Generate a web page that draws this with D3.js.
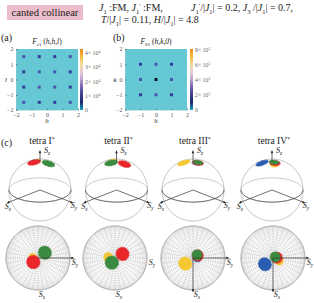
<!DOCTYPE html>
<html>
<head>
<meta charset="utf-8">
<script src="https://cdn.jsdelivr.net/npm/d3@7"></script>
<style>
body { margin: 0; background: #fff; }
svg { display: block; }
text { font-family: "Liberation Serif", serif; fill: #222; }
.tick text { fill: #555; }
</style>
</head>
<body>
<div id="chart"></div>
<script>
const WIDTH = 314;
const HEIGHT = 303;

// heatmap peaks
const peaksAH = [-1.5, -0.5, 0.5, 1.5];
const peaksAL = [-1.5, -0.5, 0.5, 1.5];
const peaksBH = [-1, 0, 1];
const peaksBK = [-1, 0, 1];
const axisTicks = [-2, -1, 0, 1, 2];
const barTicksA = [0, 1, 2, 3, 4];
const barTicksB = [0, 2, 4, 6, 8];
const barColors = ["#12a5c0", "#1d2a6e", "#3c3f96", "#6f63ad", "#b9a3cf", "#e6cdd6", "#f2dc9a", "#f5b93f", "#ee8a1e"];

// spin clusters: [colour, Sy, Sx, angular radius]
const tetraNames = ["tetra I", "tetra II", "tetra III", "tetra IV"];
const tetra1 = [["#f5c832", -0.17, -0.02, 7], ["#2a5cb0", -0.16, 0.1, 9], ["#e8262a", -0.15, 0.13, 12], ["#3a8a3f", 0.22, -0.17, 12]];
const tetra2 = [["#f5c832", -0.22, -0.03, 8], ["#e8262a", 0.24, -0.13, 12], ["#3a8a3f", -0.1, 0.15, 12]];
const tetra3 = [["#f5c832", -0.25, 0.18, 12], ["#2a5cb0", 0.14, -0.02, 8], ["#e8262a", 0.15, -0.08, 10], ["#3a8a3f", 0.13, -0.1, 9]];
const tetra4 = [["#f5c832", 0.2, 0.1, 7], ["#2a5cb0", -0.26, 0.2, 12], ["#e8262a", 0.12, -0.01, 10], ["#3a8a3f", 0.07, -0.03, 9]];
const tetraData = [tetra1, tetra2, tetra3, tetra4];
const topCenters = [40, 116.5, 193, 272];
const bottomCenters = [38, 115, 193, 273];
const bottomAxes = [[true, false], [false, false], [true, true], [true, true]];

const svg = d3.select("#chart").append("svg").attr("width", WIDTH).attr("height", HEIGHT);

// parts: [string, flags] flags: i italic, b subscript, r superscript
function rich(x, y, size, parts, anchor) {
    const t = svg.append("text").attr("x", x).attr("y", y).attr("font-size", size).attr("text-anchor", anchor || "start");
    let shift = 0;
    parts.forEach(p => {
        const s = t.append("tspan").text(p[0]);
        const flags = p[1] || "";
        let want = 0;
        if (flags.includes("i")) s.attr("font-style", "italic");
        if (flags.includes("b")) { s.attr("font-size", size * 0.65); want = size * 0.25; }
        if (flags.includes("r")) { s.attr("font-size", size * 0.65); want = -size * 0.35; }
        s.attr("dy", want - shift);
        shift = want;
    });
    return t;
}

// header
svg.append("rect").attr("x", 7).attr("y", 5).attr("width", 76).attr("height", 15).attr("fill", "#ebbcca");
rich(45, 16, 10.5, [["canted collinear"]], "middle");
rich(99, 11, 10, [["J", "i"], ["1", "b"], [" :FM,  "], ["J", "i"], ["1", "b"], ["′", "r"], [" :FM,"]]);
rich(191, 11, 10, [["J", "i"], ["1", "b"], ["′", "r"], ["/|"], ["J", "i"], ["1", "b"], ["| = 0.2,  "], ["J", "i"], ["3", "b"], [" /|"], ["J", "i"], ["1", "b"], ["| = 0.7,"]]);
rich(101, 23, 10, [["T", "i"], ["/|"], ["J", "i"], ["1", "b"], ["| = 0.11,   "], ["H", "i"], ["/|"], ["J", "i"], ["1", "b"], ["| = 4.8"]]);

rich(1, 41, 10, [["(a)"]]);
rich(113, 41, 10, [["(b)"]]);
rich(1, 146, 10, [["(c)"]]);

function heatmap(left, colorLeft, title, xs, ys, xName, yName, barTicks, barMax) {
    const top = 49, bottom = 110, right = left + 62;
    const x = d3.scaleLinear().domain([-2, 2]).range([left, right]);
    const y = d3.scaleLinear().domain([-2, 2]).range([bottom, top]);
    const tone = d3.scaleLinear().domain([0, 1]).range(["#4a55b0", "#333f9c"]);

    svg.append("rect").attr("x", left).attr("y", top).attr("width", right - left).attr("height", bottom - top).attr("fill", "#66c8d5");

    xs.forEach(h => ys.forEach(l => {
        const center = h === 0 && l === 0;
        const strong = Math.abs(h) + Math.abs(l) === 2;
        svg.append("rect")
            .attr("x", x(h) - 1.5).attr("y", y(l) - 1.5)
            .attr("width", 3).attr("height", 3)
            .attr("fill", center ? "#10142e" : tone(strong ? 1 : 0));
    }));

    const bx = svg.append("g").attr("transform", "translate(0," + bottom + ")")
        .call(d3.axisBottom(x).tickValues(axisTicks).tickSize(-1.5).tickPadding(2.5).tickFormat(d3.format("d")));
    const ly = svg.append("g").attr("transform", "translate(" + left + ",0)")
        .call(d3.axisLeft(y).tickValues(axisTicks).tickSize(-1.5).tickPadding(2.5).tickFormat(d3.format("d")));
    [bx, ly].forEach(g => {
        g.select(".domain").attr("stroke", "#9cc").attr("stroke-width", 0.5);
        g.selectAll("line").attr("stroke", "#334").attr("stroke-width", 0.5);
        g.selectAll("text").attr("font-size", 6);
    });

    rich((left + right) / 2, 44, 7.5, title, "middle");
    rich((left + right) / 2, 123, 7, [[xName, "i"]], "middle");
    rich(left - 10, 82, 7, [[yName, "i"]], "middle");

    // colorbar
    const gradId = "bar" + left;
    const grad = svg.append("defs").append("linearGradient").attr("id", gradId)
        .attr("x1", "0%").attr("y1", "100%").attr("x2", "0%").attr("y2", "0%");
    barColors.forEach((c, i) => {
        grad.append("stop").attr("offset", (i === 0 ? 0 : (i * 100 / (barColors.length - 1))) + "%").attr("stop-color", c);
    });
    svg.append("rect").attr("x", colorLeft).attr("y", top).attr("width", 3).attr("height", bottom - top).attr("fill", "url(#" + gradId + ")");
    const by = d3.scaleLinear().domain([0, barMax]).range([bottom, top]);
    barTicks.forEach(v => {
        const exp = barTicks === barTicksA ? "4" : "3";
        const parts = v === 0 ? [["0"]] : [[v + "× 10"], [exp, "r"]];
        const t = rich(colorLeft + 5, by(v) + 2, 5.8, parts);
        t.style("fill", "#666");
    });
}

heatmap(16, 80, [["F", "i"], ["c1", "b"], [" ("], ["h,h,l", "i"], [")"]], peaksAH, peaksAL, "h", "l", barTicksA, 4.3);
heatmap(125, 190, [["F", "i"], ["S1", "b"], [" ("], ["h,k,0", "i"], [")"]], peaksBH, peaksBK, "h", "k", barTicksB, 8.2);

function toGeo(sy, sx) {
    const rho = Math.min(1, Math.hypot(sy, sx));
    return [Math.atan2(sy, sx) * 180 / Math.PI, Math.acos(rho) * 180 / Math.PI];
}

function drawBlobs(path, blobs) {
    blobs.forEach(b => {
        const circle = d3.geoCircle().center(toGeo(b[1], b[2])).radius(b[3])();
        svg.append("path").attr("d", path(circle)).attr("fill", b[0])
            .attr("stroke", b[0]).attr("stroke-width", 1.2).attr("stroke-dasharray", "0.7 0.7");
    });
}

function arrow(x1, y1, x2, y2) {
    svg.append("line").attr("x1", x1).attr("y1", y1).attr("x2", x2).attr("y2", y2)
        .attr("stroke", "#333").attr("stroke-width", 0.7);
    const a = Math.atan2(y2 - y1, x2 - x1);
    const pts = [[x2, y2],
        [x2 - 3 * Math.cos(a - 0.45), y2 - 3 * Math.sin(a - 0.45)],
        [x2 - 3 * Math.cos(a + 0.45), y2 - 3 * Math.sin(a + 0.45)]];
    svg.append("polygon").attr("points", pts.join(" ")).attr("fill", "#222");
}

function spinLabel(x, y, name) {
    rich(x, y, 8, [["S", "i"], [name, "ib"]], "middle");
}

function topSphere(cx, blobs, name) {
    const cy = 190, r = 31;
    const proj = d3.geoOrthographic().scale(r).translate([cx, cy]).rotate([-45, -23]);
    const path = d3.geoPath(proj);
    const fullPath = d3.geoPath(d3.geoOrthographic().scale(r).translate([cx, cy]).rotate([-45, -23]).clipAngle(179.9));
    const equator = { type: "LineString", coordinates: d3.range(0, 361, 5).map(d => [d, 0]) };

    svg.append("path").attr("d", fullPath(equator)).attr("fill", "none").attr("stroke", "#b5b5b5").attr("stroke-width", 0.7);
    svg.append("path").attr("d", path({ type: "Sphere" })).attr("fill", "none").attr("stroke", "#b0b0b0").attr("stroke-width", 0.8);
    svg.append("path").attr("d", path(equator)).attr("fill", "none").attr("stroke", "#444").attr("stroke-width", 0.7);
    drawBlobs(path, blobs);

    const o = proj([0, 90]);
    const sx = proj([0, 0]), sy = proj([90, 0]);
    const far = 1.5;
    arrow(cx, cy, cx + (sx[0] - cx) * far, cy + (sx[1] - cy) * far);
    arrow(cx, cy, cx + (sy[0] - cx) * far, cy + (sy[1] - cy) * far);
    arrow(o[0], o[1], cx + (o[0] - cx) * 1.38, cy + (o[1] - cy) * 1.38);

    spinLabel(cx + 7, 153, "z");
    spinLabel(cx - 32, 209, "x");
    spinLabel(cx + 34, 208, "y");
    rich(cx + 2, 144, 9.5, [[name], ["*", "r"]], "middle");
}

function bottomSphere(cx, blobs, axes) {
    const cy = 258, r = 32;
    const proj = d3.geoOrthographic().scale(r).translate([cx, cy]).rotate([0, -90]);
    const path = d3.geoPath(proj);
    svg.append("path").attr("d", path(d3.geoGraticule().step([10, 5])())).attr("fill", "none").attr("stroke", "#c6c6c6").attr("stroke-width", 0.5);
    svg.append("path").attr("d", path({ type: "Sphere" })).attr("fill", "none").attr("stroke", "#b5b5b5").attr("stroke-width", 1);
    drawBlobs(path, blobs);
    if (axes[0]) arrow(cx, cy, cx + 36, cy);
    if (axes[1]) arrow(cx, cy, cx, cy + 34);
    spinLabel(cx + 37, cy + 7, "y");
    spinLabel(cx + 4, cy + 39, "x");
}

tetraNames.forEach((name, i) => {
    topSphere(topCenters[i], tetraData[i], name);
    bottomSphere(bottomCenters[i], tetraData[i], bottomAxes[i]);
});
</script>
</body>
</html>
